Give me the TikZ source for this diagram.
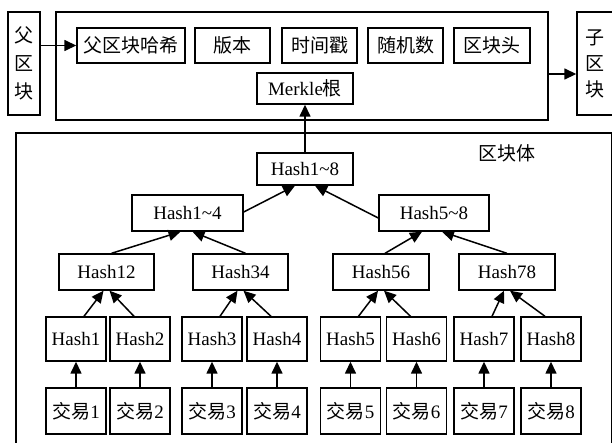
\documentclass[tikz,border=0pt]{standalone}
\usepackage{fontspec}
\setmainfont{Liberation Serif}
\newfontfamily\cjk{Noto Sans CJK SC}
\usetikzlibrary{arrows.meta}
\tikzset{
  box/.style={draw, line width=1.4pt, inner sep=1pt, minimum height=#1, font=\fontsize{19}{22}\selectfont},
  box/.default=36pt,
  arr/.style={line width=1.5pt, -{Triangle[length=12pt,width=11pt]}},
  frame/.style={draw, line width=1.4pt}
}
\begin{document}
\begin{tikzpicture}[x=1pt,y=-1pt]
\useasboundingbox (0,0) rectangle (612,442);
% containers
\node[frame, minimum width=492pt, minimum height=108pt, inner sep=0] (header) at (302,66) {};
\draw[frame] (16,133) rectangle (611.5,460);
\node[font=\fontsize{19}{22}\selectfont\cjk] (bodylabel) at (507,153) {区块体};
% side blocks
\node[box=103pt, minimum width=32pt, align=center, font=\fontsize{19}{28}\selectfont\cjk] (parent) at (24,63.5) {父\\区\\块};
\node[box=103pt, minimum width=36pt, align=center, font=\fontsize{19}{26}\selectfont\cjk] (child) at (595,63.5) {子\\区\\块};
% header fields
\node[box=35pt, minimum width=108pt] (phash) at (131,45.5) {\cjk 父区块哈希};
\node[box=35pt, minimum width=75pt] (ver) at (232.5,45.5) {\cjk 版本};
\node[box=35pt, minimum width=75pt] (ts) at (319.5,45.5) {\cjk 时间戳};
\node[box=35pt, minimum width=75pt] (nonce) at (405.5,45.5) {\cjk 随机数};
\node[box=35pt, minimum width=76pt] (bhead) at (492,45.5) {\cjk 区块头};
\node[box=31pt, minimum width=96pt] (merkle) at (305,88.5) {Merkle{\cjk 根}};
% tree
\node[box=32pt, minimum width=96pt] (h18) at (305,169) {Hash1\textasciitilde8};
\node[box, minimum width=111pt] (h14) at (187.5,213) {Hash1\textasciitilde4};
\node[box, minimum width=110pt] (h58) at (434,213) {Hash5\textasciitilde8};
\node[box, minimum width=95pt] (h12) at (106.5,272) {Hash12};
\node[box, minimum width=95pt] (h34) at (240.5,272) {Hash34};
\node[box, minimum width=96pt] (h56) at (381,272) {Hash56};
\node[box, minimum width=96pt] (h78) at (507,272) {Hash78};
\foreach \i/\x in {1/76,2/140,3/212,4/277,5/350.5,6/416.5,7/484,8/551}{
  \node[box=44pt, minimum width=60pt] (h\i) at (\x,339) {Hash\i};
  \node[box=46pt, minimum width=60pt] (t\i) at (\x,411) {{\cjk 交易}\i};
  \draw[arr] (t\i) -- (h\i);
}
% arrows
\coordinate (hout) at ([yshift=-8pt]header.east);
\draw[arr] (parent.east |- phash.west) -- (phash.west);
\draw[arr] (hout) -- (child.west |- hout);
\draw[arr] (h18.north) -- (merkle.south);
\draw[arr] ([yshift=1pt]h14.east) -- ([xshift=-10pt]h18.south);
\draw[arr] ([yshift=-5pt]h58.west) -- ([xshift=10pt]h18.south);
\draw[arr] ([xshift=5pt]h12.north) -- ([xshift=-7pt]h14.south);
\draw[arr] ([xshift=5pt]h34.north) -- ([xshift=5pt]h14.south);
\draw[arr] ([xshift=4pt]h56.north) -- ([xshift=-12pt]h58.south);
\draw[arr] (h78.north) -- ([xshift=8pt]h58.south);
\foreach \l/\r/\p in {1/2/h12,3/4/h34,5/6/h56,7/8/h78}{
  \draw[arr] ([xshift=8pt]h\l.north) -- ([xshift=-3pt]\p.south);
  \draw[arr] ([xshift=-6pt]h\r.north) -- ([xshift=3pt]\p.south);
}
\end{tikzpicture}
\end{document}
